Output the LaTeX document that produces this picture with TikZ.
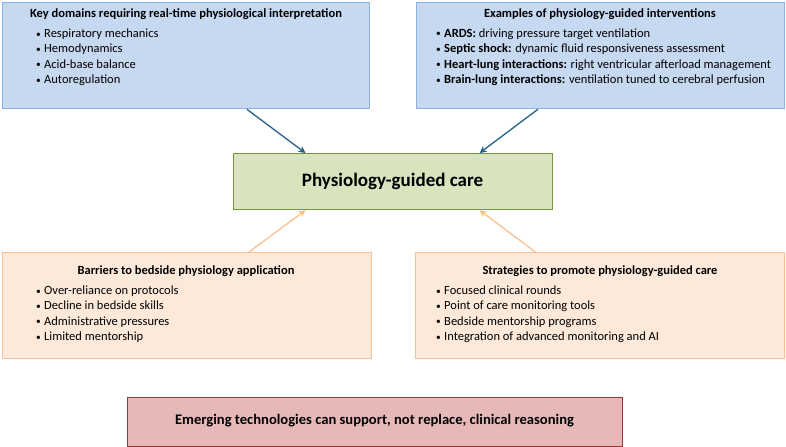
\documentclass[tikz,border=0pt]{standalone}
\usepackage{fontspec}
\setmainfont{Carlito}
\usetikzlibrary{calc,arrows.meta}
\definecolor{bluefill}{HTML}{C6D9F1}
\definecolor{blueline}{HTML}{8DB3E2}
\definecolor{greenfill}{HTML}{D7E4BD}
\definecolor{greenline}{HTML}{77933C}
\definecolor{orfill}{HTML}{FDE9D9}
\definecolor{orline}{HTML}{FAC090}
\definecolor{redfill}{HTML}{E6B9B8}
\definecolor{redline}{HTML}{953735}
\definecolor{bluearrow}{HTML}{215F86}
\tikzset{
  x=1bp, y=-1bp,
  panel/.style={draw, line width=1.3bp, inner sep=0, anchor=north west},
  bluebox/.style={panel, fill=bluefill, draw=blueline},
  orbox/.style={panel, fill=orfill, draw=orline},
  ttl/.style={font=\fontsize{12.5bp}{14bp}\selectfont\bfseries, anchor=base, inner sep=0},
  lst/.style={font=\fontsize{12.5bp}{14bp}\selectfont, anchor=base west, inner sep=0},
  barrow/.style={draw=bluearrow, line width=1.3bp, -{Stealth[length=7bp,width=7bp]}},
  oarrow/.style={draw=orline, line width=1.3bp, -{Stealth[length=7bp,width=7bp]}},
}
\newcommand{\bul}{\makebox[8bp][l]{\raisebox{0.6bp}{\fontsize{9.5bp}{10bp}\selectfont •}}}
\begin{document}
\begin{tikzpicture}
\useasboundingbox (0,0) rectangle (786,447);
% boxes
\node[bluebox, minimum width=367bp, minimum height=106bp] (tl) at (2,2) {};
\node[bluebox, minimum width=368bp, minimum height=106bp] (tr) at (416,2) {};
\node[panel, fill=greenfill, draw=greenline, minimum width=319bp, minimum height=56bp] (c) at (233,153) {};
\node[orbox, minimum width=369bp, minimum height=106bp] (bl) at (2,252) {};
\node[orbox, minimum width=369bp, minimum height=106bp] (br) at (415,252) {};
\node[panel, fill=redfill, draw=redline, minimum width=495bp, minimum height=49bp] (b) at (127,397) {};
% texts top left
\node[ttl] (tlt) at (186,17.5) {Key domains requiring real-time physiological interpretation};
\node[lst] (tl1) at (36,38) {\bul Respiratory mechanics};
\node[lst] (tl2) at (36,53) {\bul Hemodynamics};
\node[lst] (tl3) at (36,68.5) {\bul Acid-base balance};
\node[lst] (tl4) at (36,84) {\bul Autoregulation};
% top right
\node[ttl] (trt) at (600,18) {Examples of physiology-guided interventions};
\node[lst] (tr1) at (436,37.5) {\bul\textbf{ARDS:} driving pressure target ventilation};
\node[lst] (tr2) at (436,53) {\bul\textbf{Septic shock:} dynamic fluid responsiveness assessment};
\node[lst] (tr3) at (436,68.5) {\bul\textbf{Heart-lung interactions:} right ventricular afterload management};
\node[lst] (tr4) at (436,84) {\bul\textbf{Brain-lung interactions:} ventilation tuned to cerebral perfusion};
% center
\node[font=\fontsize{19bp}{21bp}\selectfont\bfseries, inner sep=0, anchor=base] (ct) at (392.5,186.5) {Physiology-guided care};
% bottom left
\node[ttl] (blt) at (186,274.5) {Barriers to bedside physiology application};
\node[lst] (bl1) at (36,295) {\bul Over-reliance on protocols};
\node[lst] (bl2) at (36,310) {\bul Decline in bedside skills};
\node[lst] (bl3) at (36,325.5) {\bul Administrative pressures};
\node[lst] (bl4) at (36,341) {\bul Limited mentorship};
% bottom right
\node[ttl] (brt) at (600,275) {Strategies to promote physiology-guided care};
\node[lst] (br1) at (436,295) {\bul Focused clinical rounds};
\node[lst] (br2) at (436,310) {\bul Point of care monitoring tools};
\node[lst] (br3) at (436,325.5) {\bul Bedside mentorship programs};
\node[lst] (br4) at (436,341) {\bul Integration of advanced monitoring and AI};
% bottom
\node[font=\fontsize{14.6bp}{16bp}\selectfont\bfseries, inner sep=0, anchor=base] (bt) at (374.5,424.5) {Emerging technologies can support, not replace, clinical reasoning};
% arrows
\draw[barrow] ($(tl.south west)!0.665!(tl.south east)$) -- ($(c.north west)!0.226!(c.north east)$);
\draw[barrow] ($(tr.south west)!0.33!(tr.south east)$) -- ($(c.north west)!0.77!(c.north east)$);
\draw[oarrow] ($(bl.north west)!0.667!(bl.north east)$) -- ($(c.south west)!0.226!(c.south east)$);
\draw[oarrow] ($(br.north west)!0.325!(br.north east)$) -- ($(c.south west)!0.77!(c.south east)$);
\end{tikzpicture}
\end{document}
